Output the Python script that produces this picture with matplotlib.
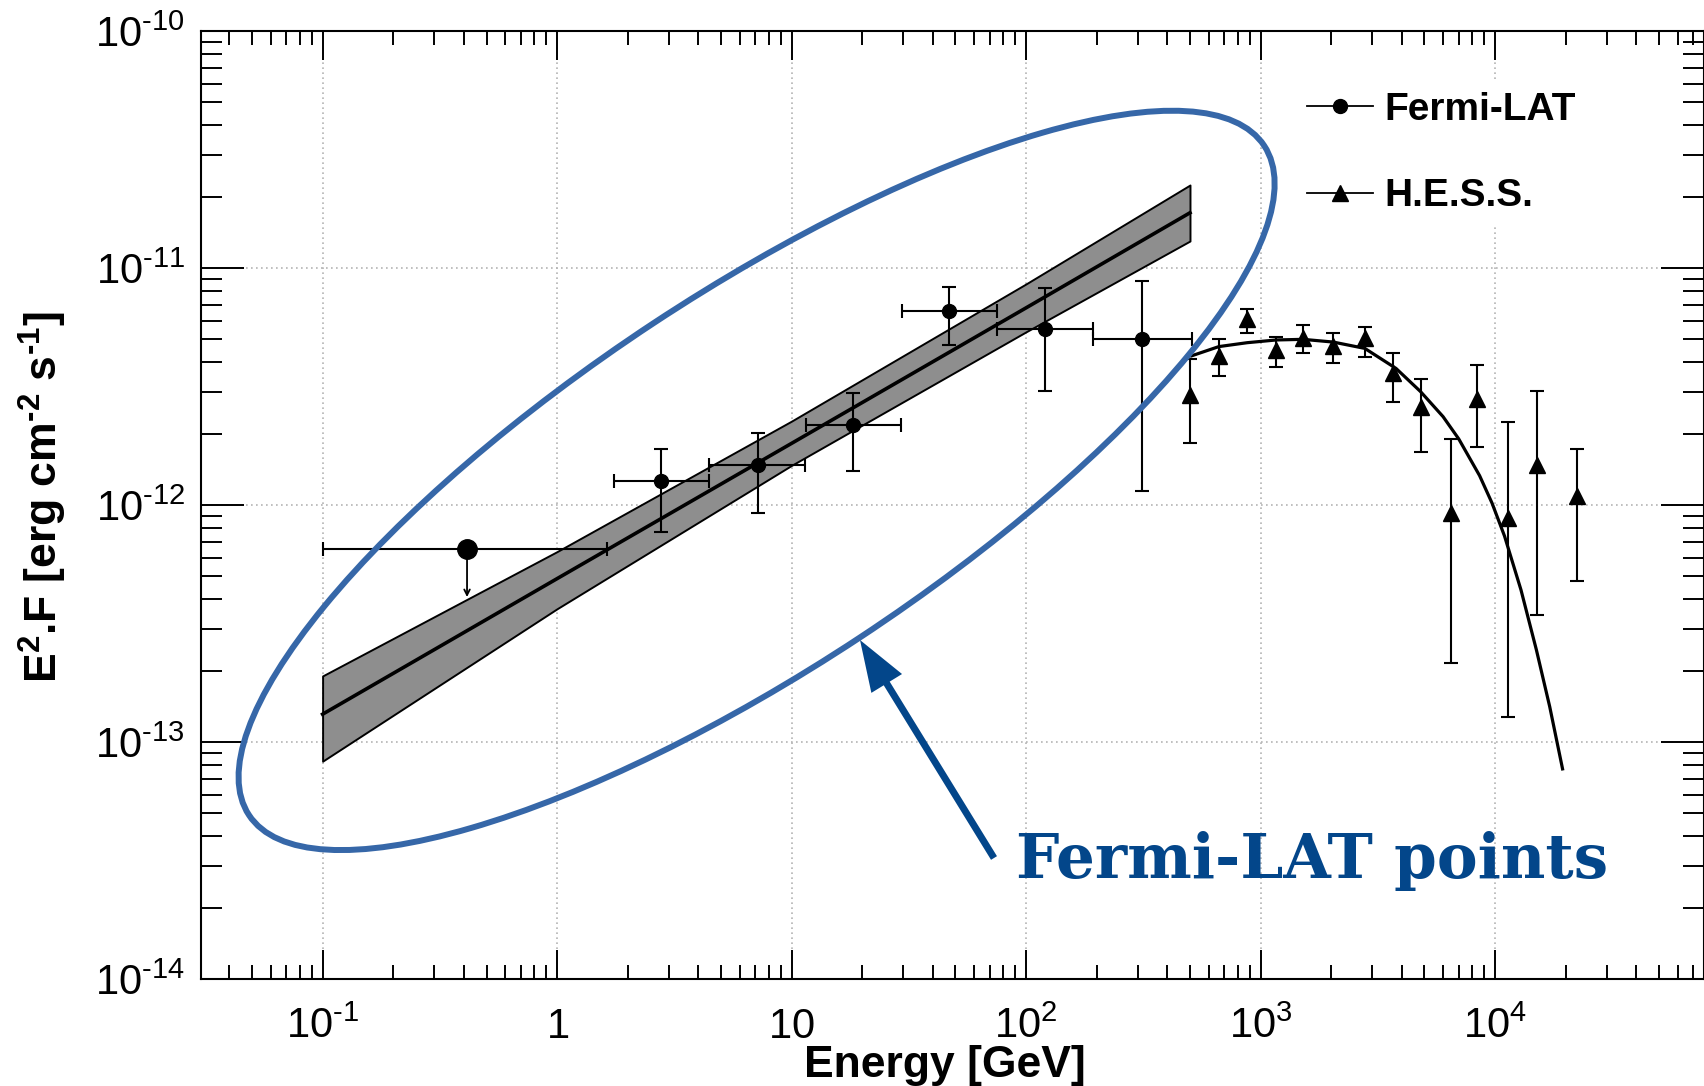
import numpy as np
import matplotlib
matplotlib.use('Agg')
import matplotlib.pyplot as plt
from matplotlib.ticker import FixedLocator, FixedFormatter, LogLocator, NullFormatter
from matplotlib.lines import Line2D
from matplotlib.patches import Ellipse, FancyArrow

plt.rcParams['font.family'] = 'Liberation Sans'
plt.rcParams['mathtext.fontset'] = 'custom'
plt.rcParams['mathtext.rm'] = 'Liberation Sans'
plt.rcParams['mathtext.bf'] = 'Liberation Sans:bold'
plt.rcParams['mathtext.default'] = 'regular'

# Fermi-LAT points (GeV, erg cm-2 s-1)
fermi_E = [2.77, 7.16, 18.3, 47.0, 120.5, 311.0]
fermi_E_lo = [1.74, 4.44, 11.5, 29.5, 75.0, 193.6]
fermi_E_hi = [4.44, 11.4, 29.3, 74.9, 193.6, 508.0]
fermi_F = [1.26e-12, 1.476e-12, 2.18e-12, 6.61e-12, 5.53e-12, 5.01e-12]
fermi_F_lo = [7.71e-13, 9.23e-13, 1.39e-12, 4.73e-12, 3.03e-12, 1.15e-12]
fermi_F_hi = [1.72e-12, 2.01e-12, 2.96e-12, 8.34e-12, 8.24e-12, 8.81e-12]

# Fermi-LAT upper limit
ul_E = 0.413
ul_E_lo = 0.1
ul_E_hi = 1.63
ul_F = 6.52e-13
ul_F_end = 3.98e-13

# Fermi-LAT butterfly
band_E = [0.1, 1, 10, 100, 500]
band_mid = [1.31e-13, 4.89e-13, 1.82e-12, 6.79e-12, 1.71e-11]
band_hi = [1.90e-13, 6.36e-13, 2.26e-12, 8.57e-12, 2.24e-11]
band_lo = [8.3e-14, 3.65e-13, 1.47e-12, 5.38e-12, 1.30e-11]

# H.E.S.S. points
hess_E = [502, 664, 877, 1167, 1518, 2040, 2782, 3675, 4831, 6502, 8337, 11300, 15100, 22400]
hess_F = [2.92e-12, 4.25e-12, 6.07e-12, 4.51e-12, 5.05e-12, 4.70e-12, 5.05e-12,
          3.60e-12, 2.60e-12, 9.23e-13, 2.79e-12, 8.84e-13, 1.475e-12, 1.09e-12]
hess_F_hi = [4.13e-12, 5.0e-12, 6.70e-12, 5.13e-12, 5.74e-12, 5.30e-12, 5.62e-12,
             4.39e-12, 3.39e-12, 1.89e-12, 3.89e-12, 2.25e-12, 3.03e-12, 1.72e-12]
hess_F_lo = [1.82e-12, 3.51e-12, 5.33e-12, 3.81e-12, 4.37e-12, 3.96e-12, 4.22e-12,
             2.73e-12, 1.68e-12, 2.16e-13, 1.75e-12, 1.27e-13, 3.44e-13, 4.78e-13]

# H.E.S.S. fitted curve
fit_E = [508, 664, 877, 1167, 1518, 2040, 2782, 3780, 4810, 6000, 7000, 8590, 9700,
         10970, 12900, 15000, 17100, 19400]
fit_F = [4.26e-12, 4.66e-12, 4.84e-12, 4.97e-12, 5.0e-12, 4.87e-12, 4.58e-12, 3.77e-12,
         3.01e-12, 2.36e-12, 1.90e-12, 1.33e-12, 1.02e-12, 7.4e-13, 4.38e-13, 2.45e-13,
         1.41e-13, 7.7e-14]

HY = '\u2010'  # plain hyphen, as in the original exponents
xtick_vals = [0.1, 1, 10, 100, 1000, 10000]
xtick_labels = ['$10^{%s1}$' % HY, '$1$', '$10$', '$10^{2}$', '$10^{3}$', '$10^{4}$']
ytick_vals = [1e-14, 1e-13, 1e-12, 1e-11, 1e-10]
ytick_labels = ['$10^{%s%d}$' % (HY, n) for n in (14, 13, 12, 11, 10)]

W, H = 1704, 1086
fig = plt.figure(figsize=(W / 100, H / 100), dpi=100)
ax = fig.add_axes([201 / W, (H - 979) / H, (W - 201) / W, (979 - 31) / H])
ax.set_xscale('log')
ax.set_yscale('log')
ax.set_xlim(0.0303, 7.78e4)
ax.set_ylim(1e-14, 1e-10)

# butterfly
ax.fill_between(band_E, band_lo, band_hi, facecolor='#8e8e8e', edgecolor='black',
                linewidth=1.4, zorder=2)
ax.plot(band_E, band_mid, color='black', lw=2.6, zorder=3)

# Fermi points
fermi_yerr = [np.array(fermi_F) - np.array(fermi_F_lo), np.array(fermi_F_hi) - np.array(fermi_F)]
fermi_xerr = [np.array(fermi_E) - np.array(fermi_E_lo), np.array(fermi_E_hi) - np.array(fermi_E)]
ax.errorbar(fermi_E, fermi_F, xerr=fermi_xerr, yerr=fermi_yerr, fmt='o', color='black',
            ms=10, elinewidth=1.5, capsize=5, capthick=1.5, zorder=4)
ax.errorbar([ul_E], [ul_F], xerr=[[ul_E - ul_E_lo], [ul_E_hi - ul_E]], fmt='o', color='black',
            ms=14, elinewidth=1.5, capsize=5, capthick=1.5, zorder=4)
ax.annotate('', xy=(ul_E, ul_F_end), xytext=(ul_E, ul_F),
            arrowprops=dict(arrowstyle='->', color='black', lw=1.3), zorder=4)

# HESS points and curve
hess_yerr = [np.array(hess_F) - np.array(hess_F_lo), np.array(hess_F_hi) - np.array(hess_F)]
ax.errorbar(hess_E, hess_F, yerr=hess_yerr, fmt='^', color='black', ms=12,
            elinewidth=1.5, capsize=5, capthick=1.5, zorder=4)
ax.plot(fit_E, fit_F, color='black', lw=2.3, zorder=5)

# axes styling
ax.xaxis.set_major_locator(FixedLocator(xtick_vals))
ax.xaxis.set_major_formatter(FixedFormatter(xtick_labels))
ax.xaxis.set_minor_locator(LogLocator(base=10, subs=np.arange(2, 10), numticks=100))
ax.xaxis.set_minor_formatter(NullFormatter())
ax.yaxis.set_major_locator(FixedLocator(ytick_vals))
ax.yaxis.set_major_formatter(FixedFormatter(ytick_labels))
ax.yaxis.set_minor_locator(LogLocator(base=10, subs=np.arange(2, 10), numticks=100))
ax.yaxis.set_minor_formatter(NullFormatter())

ax.tick_params(which='both', direction='in', top=True, right=True, color='black', width=1.4)
ax.tick_params(axis='x', which='major', length=21, pad=42.5, labelsize=30)
ax.tick_params(axis='x', which='minor', length=10)
ax.tick_params(axis='y', which='major', length=31, pad=11.5, labelsize=30)
ax.tick_params(axis='y', which='minor', length=15)
for lbl in ax.get_xticklabels():
    lbl.set_verticalalignment('baseline')
for sp in ax.spines.values():
    sp.set_linewidth(1.5)

ax.grid(True, which='major', color='#b4b4b4', lw=1.2, ls=(0, (1, 2)))

handles = [Line2D([], [], color='black', marker='o', ms=10, lw=1.3),
           Line2D([], [], color='black', marker='^', ms=11, lw=1.3)]
leg = ax.legend(handles, ['Fermi-LAT', 'H.E.S.S.'], loc='upper left',
                bbox_to_anchor=(1295 / W, 1 - 80 / H), bbox_transform=fig.transFigure,
                borderaxespad=0, borderpad=0.3, handlelength=1.7, handletextpad=0.3,
                labelspacing=1.3, frameon=True, fancybox=False, framealpha=1,
                facecolor='white', edgecolor='none',
                prop={'weight': 'bold', 'size': 28})

fig.text(945 / W, 1 - 1065 / H, 'Energy [GeV]', fontsize=32, fontweight='bold',
         ha='center', va='center')
fig.text(43 / W, 1 - 497 / H,
         r'E$^{\mathbf{2}}$.F [erg cm$^{\mathbf{%s2}}$ s$^{\mathbf{%s1}}$]' % (HY, HY),
         fontsize=32, fontweight='bold', rotation=90, ha='center', va='center')

# overlay for the highlight
ov = fig.add_axes([0, 0, 1, 1])
ov.set_xlim(0, W)
ov.set_ylim(H, 0)
ov.axis('off')
ov.add_patch(Ellipse((756.6, 480.4), width=1216, height=376, angle=-33.4,
                     fill=False, edgecolor='#3667a8', lw=4.3))
ov.add_patch(FancyArrow(994, 858, 860 - 994, 640 - 858, width=7, head_width=36,
                        head_length=51, length_includes_head=True, color='#03468a', lw=0))
ov.text(1016, 878, 'Fermi-LAT points', fontsize=44, fontweight='bold',
        family='DejaVu Serif', color='#03468a', ha='left', va='baseline')

fig.savefig('out.png', dpi=100)
